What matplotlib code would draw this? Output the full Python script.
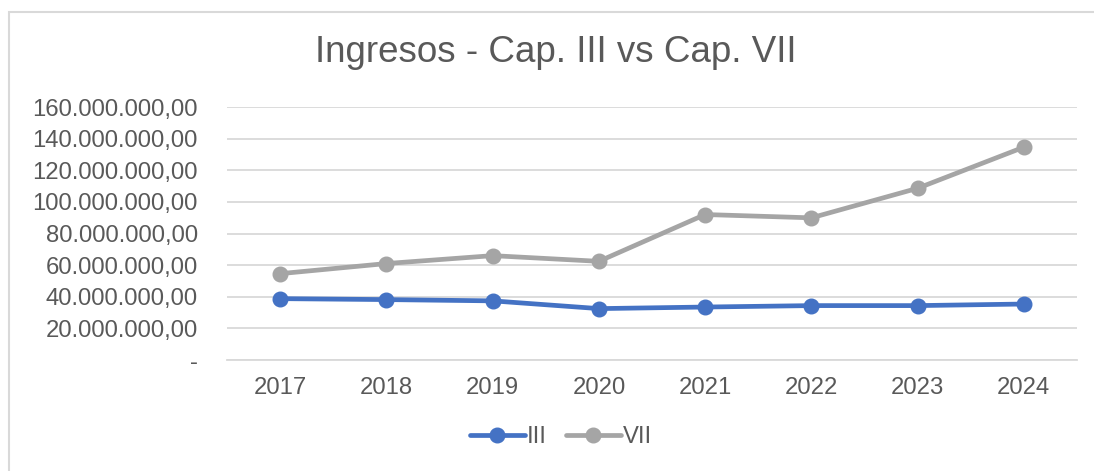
import matplotlib
matplotlib.use('Agg')

import matplotlib.pyplot as plt
from matplotlib.patches import Rectangle
from matplotlib.ticker import FuncFormatter


years = ['2017', '2018', '2019', '2020', '2021', '2022', '2023', '2024']
cap_iii = [38.8e6, 38.2e6, 37.4e6, 32.5e6, 33.5e6, 34.4e6, 34.4e6, 35.4e6]
cap_vii = [54.6e6, 61.0e6, 66.0e6, 62.4e6, 92.0e6, 89.9e6, 108.6e6, 134.6e6]
y_ticks = [0, 20e6, 40e6, 60e6, 80e6, 100e6, 120e6, 140e6, 160e6]

BLUE = '#4472C4'
GREY = '#A5A5A5'
TEXT = '#595959'
GRID = '#D9D9D9'

plt.rcParams['font.family'] = ['Liberation Sans', 'DejaVu Sans']


def fmt_es(v, pos):
    # spanish style: dots for thousands, comma for decimals, "-" for zero
    if v == 0:
        return '-'
    s = f"{v:,.2f}"
    return s.replace(',', 'X').replace('.', ',').replace('X', '.')


W, H = 1094, 471
fig = plt.figure(figsize=(W / 100, H / 100), dpi=100)

# chart area border
fig.patches.append(Rectangle((8.5 / W, -0.1), 1.2, 1 - 11.5 / H + 0.1,
                             transform=fig.transFigure, fill=False,
                             edgecolor=GRID, lw=1.5))

ax = fig.add_axes([227 / W, 1 - 360 / H, (1077 - 227) / W, (360 - 107) / H])

x = range(len(years))
ax.plot(x, cap_iii, color=BLUE, lw=3.4, marker='o', ms=10.5,
        solid_capstyle='round', label='III', zorder=3)
ax.plot(x, cap_vii, color=GREY, lw=3.4, marker='o', ms=10.5,
        solid_capstyle='round', label='VII', zorder=3)

ax.set_xlim(-0.5, len(years) - 0.5)
ax.set_ylim(0, 160e6)
ax.set_xticks(list(x))
ax.set_xticklabels(years)
ax.set_yticks(y_ticks)
ax.yaxis.set_major_formatter(FuncFormatter(fmt_es))

ax.grid(axis='y', color=GRID, lw=1.3)
ax.set_axisbelow(True)
for side in ['top', 'right', 'left']:
    ax.spines[side].set_visible(False)
ax.spines['bottom'].set_color(GRID)
ax.spines['bottom'].set_linewidth(1.3)
ax.tick_params(axis='both', length=0, colors=TEXT, labelsize=17.2)
ax.tick_params(axis='y', pad=21)
ax.tick_params(axis='x', pad=12)

fig.text(556 / W, 1 - 52 / H, 'Ingresos - Cap. III vs Cap. VII',
         ha='center', va='center', fontsize=26.5, color=TEXT)

leg = fig.legend(loc='center', bbox_to_anchor=(561 / W, 1 - 437 / H), ncol=2,
                 frameon=False, fontsize=17.2, handlelength=2.3,
                 handletextpad=0.1, columnspacing=0.8)
for t in leg.get_texts():
    t.set_color(TEXT)

fig.savefig('out.png', dpi=100, facecolor='white')
